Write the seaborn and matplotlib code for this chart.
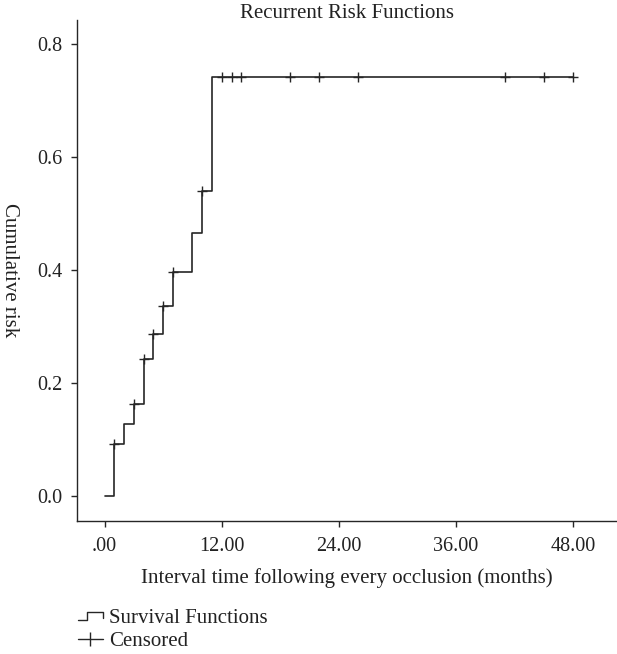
import numpy as np
import pandas as pd
import matplotlib
matplotlib.use("Agg")
import matplotlib.pyplot as plt
import seaborn as sns
from matplotlib.lines import Line2D
from matplotlib.legend_handler import HandlerBase

# Step points of the cumulative risk curve (months, risk)
event_times = [0, 1, 2, 3, 4, 5, 6, 7, 9, 10, 11, 48]
cum_risk = [0.0, 0.091, 0.127, 0.162, 0.242, 0.287, 0.336, 0.396, 0.466, 0.540, 0.741, 0.741]

# Censored observations
censor_times = [1, 3, 4, 5, 6, 7, 10, 12, 13, 14, 19, 22, 26, 41, 45, 48]
censor_risk = [0.091, 0.162, 0.242, 0.287, 0.336, 0.396, 0.540,
               0.741, 0.741, 0.741, 0.741, 0.741, 0.741, 0.741, 0.741, 0.741]

x_ticks = [0, 12, 24, 36, 48]
x_tick_labels = [".00", "12.00", "24.00", "36.00", "48.00"]
y_ticks = [0.0, 0.2, 0.4, 0.6, 0.8]

sns.set_style("ticks")
plt.rcParams["font.family"] = ["Liberation Serif", "DejaVu Serif"]
line_color = "#262626"
text_color = "#222222"

curve = pd.DataFrame({"time": event_times, "risk": cum_risk})
cens = pd.DataFrame({"time": censor_times, "risk": censor_risk})

fig = plt.figure(figsize=(6.17, 6.54), dpi=100)
ax = fig.add_axes([0.1253, 0.2038, 0.8747, 0.7656])

sns.lineplot(data=curve, x="time", y="risk", ax=ax, drawstyle="steps-post",
             color=line_color, linewidth=1.2, sort=False, estimator=None)
sns.scatterplot(data=cens, x="time", y="risk", ax=ax, marker="+", s=60,
                color=line_color, linewidth=1.0, zorder=3)

ax.set_xlim(-2.8, 52.5)
ax.set_ylim(-0.044, 0.842)
ax.set_xticks(x_ticks)
ax.set_xticklabels(x_tick_labels)
ax.set_yticks(y_ticks)
ax.set_yticklabels([f"{v:.1f}" for v in y_ticks])
ax.tick_params(axis="both", labelsize=14.5, length=4.5, width=1, color=line_color,
               labelcolor=text_color)
ax.tick_params(axis="y", pad=6)
ax.tick_params(axis="x", pad=7)
for side in ["top", "right"]:
    ax.spines[side].set_visible(False)
for side in ["left", "bottom"]:
    ax.spines[side].set_linewidth(1.0)
    ax.spines[side].set_color(line_color)

ax.set_xlabel("Interval time following every occlusion (months)", fontsize=15,
              color=text_color, va="center")
ax.xaxis.set_label_coords(0.5, -0.114)
ax.set_ylabel("Cumulative risk", fontsize=15, color=text_color, rotation=270,
              va="center")
ax.yaxis.set_label_coords(-0.1265, 0.5)

fig.text(347 / 617, 1 - 13 / 654, "Recurrent Risk Functions", ha="center",
         va="center", fontsize=15, color=text_color)


class StepHandler(HandlerBase):
    def create_artists(self, legend, orig_handle, xdescent, ydescent,
                       width, height, fontsize, trans):
        x0 = -xdescent
        y0 = -ydescent
        xs = [x0, x0 + width * 0.35, x0 + width * 0.35, x0 + width, x0 + width]
        ys = [y0 + height * 0.15, y0 + height * 0.15, y0 + height * 0.7,
              y0 + height * 0.7, y0 + height * 0.3]
        ln = Line2D(xs, ys, color=line_color, linewidth=1.0, transform=trans)
        return [ln]


step_handle = Line2D([], [], color=line_color)
cens_handle = Line2D([], [], color=line_color, marker="|", markersize=10,
                     linewidth=1.0, markeredgewidth=1.0)
fig.legend([step_handle, cens_handle], ["Survival Functions", "Censored"],
           handler_map={step_handle: StepHandler()},
           loc="upper left", bbox_to_anchor=(78 / 617, 1 - 608 / 654),
           frameon=False, fontsize=15, handlelength=1.2, handletextpad=0.3,
           labelspacing=0.18, borderaxespad=0, borderpad=0, labelcolor=text_color)

fig.savefig("out.png", dpi=100)
